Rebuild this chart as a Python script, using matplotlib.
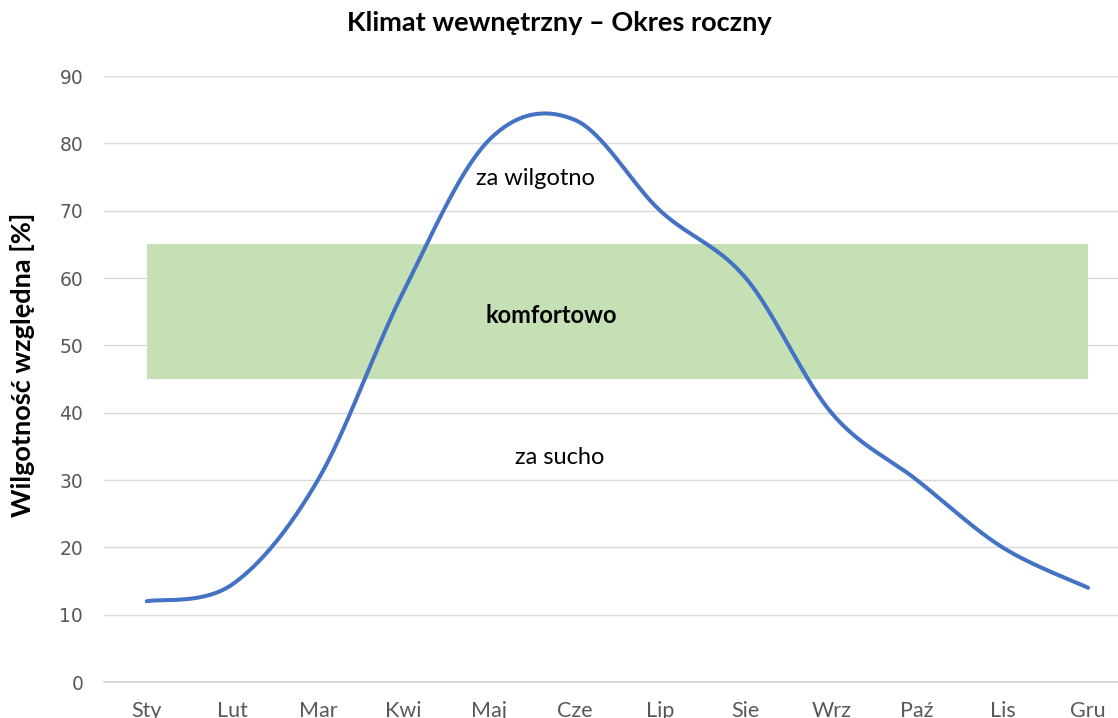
import matplotlib.pyplot as plt
import numpy as np

plt.rcParams['font.family'] = ['Lato', 'DejaVu Sans']

months = ['Sty', 'Lut', 'Mar', 'Kwi', 'Maj', 'Cze', 'Lip', 'Sie', 'Wrz', 'Paź', 'Lis', 'Gru']
humidity = [12, 14.5, 30, 58, 80.5, 83.5, 70, 60, 40, 30, 20, 14]
comfort_low, comfort_high = 45, 65
yticks = list(range(0, 100, 10))


def smooth(xs, ys, n=40):
    # Catmull-Rom spline through the points, like Excel's smoothed line
    p = np.column_stack([xs, ys]).astype(float)
    p = np.vstack([p[0], p, p[-1]])
    out = []
    t = np.linspace(0, 1, n)[:, None]
    for i in range(1, len(p) - 2):
        p0, p1, p2, p3 = p[i - 1], p[i], p[i + 1], p[i + 2]
        c1 = p1 + (p2 - p0) / 6
        c2 = p2 - (p3 - p1) / 6
        seg = ((1 - t) ** 3) * p1 + 3 * ((1 - t) ** 2) * t * c1 + 3 * (1 - t) * t ** 2 * c2 + t ** 3 * p2
        out.append(seg if i == 1 else seg[1:])
    out = np.vstack(out)
    return out[:, 0], out[:, 1]


x = np.arange(len(months))
fig = plt.figure(figsize=(11.18, 7.18), dpi=100)
ax = fig.add_axes([0.093, 0.0501, 0.907, 0.844])

ax.fill_between([x[0], x[-1]], comfort_low, comfort_high, color='#C5E0B4', zorder=2, linewidth=0)
sx, sy = smooth(x, humidity)
ax.plot(sx, sy, color='#4472C4', linewidth=2.9, zorder=3, solid_capstyle='round')

ax.text(4.54, 74.8, 'za wilgotno', ha='center', va='center', fontsize=17)
ax.text(4.73, 54.4, 'komfortowo', ha='center', va='center', fontsize=17, fontweight='bold')
ax.text(4.83, 33.3, 'za sucho', ha='center', va='center', fontsize=17)

ax.set_xlim(-0.5, 11.35)
ax.set_ylim(0, 90)
ax.set_yticks(yticks)
ax.set_xticks(x)
ax.set_xticklabels(months, fontsize=15.5)
ax.tick_params(axis='x', length=0, colors='#595959', pad=14)
ax.tick_params(axis='y', length=0, colors='#595959', pad=15)
for lab in ax.get_yticklabels():
    lab.set_fontfamily('DejaVu Sans')
    lab.set_fontsize(13.5)
ax.grid(axis='y', color='#D9D9D9', linewidth=1, zorder=0)
ax.set_axisbelow(True)
for s in ['top', 'right', 'left']:
    ax.spines[s].set_visible(False)
ax.spines['bottom'].set_color('#D0D0D0')
ax.spines['bottom'].set_linewidth(1.2)

ax.set_ylabel('Wilgotność względna [%]', fontsize=19.5, fontweight='bold')
ax.yaxis.set_label_coords(-0.068, 0.523)
fig.suptitle('Klimat wewnętrzny – Okres roczny', fontsize=19.5, fontweight='bold', x=0.5, y=0.985)

fig.savefig('out.png', dpi=100)
